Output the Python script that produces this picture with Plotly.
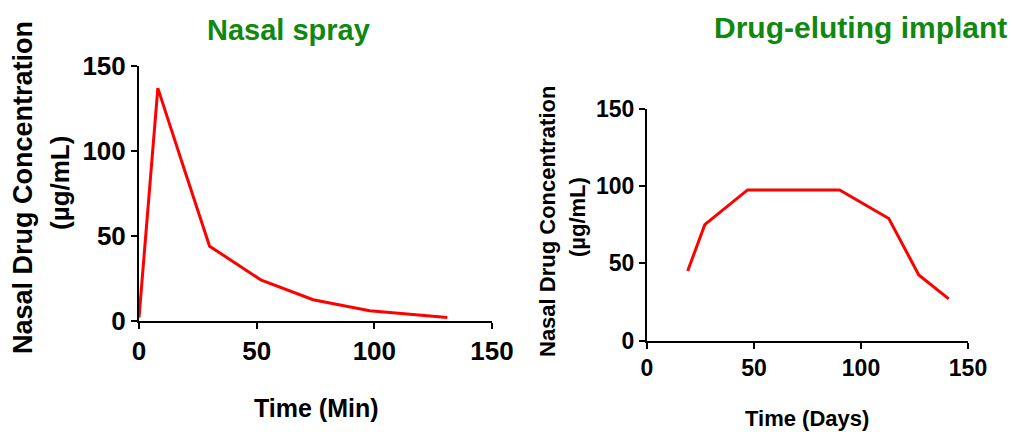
import plotly.graph_objects as go

W, H = 1012, 432

# Data: Nasal spray (time in minutes)
spray_time = [0, 8, 20, 30, 52, 74, 98, 131]
spray_conc = [2, 137, 86, 44, 24, 12.5, 6, 2]

# Data: Drug-eluting implant (time in days)
implant_time = [19, 27, 47, 90, 113, 127, 141]
implant_conc = [45, 75, 97.5, 97.5, 79, 42.5, 27]

tick_vals = [0, 50, 100, 150]
tick_text = ["0", "50", "100", "150"]

RED = "#ff0000"
GREEN = "#118811"
FONT = "Liberation Sans"


def px(x):
    return x / W


def py(y):
    return 1 - y / H


fig = go.Figure()
fig.add_trace(go.Scatter(x=spray_time, y=spray_conc, mode="lines",
                         line=dict(color=RED, width=3), xaxis="x", yaxis="y",
                         showlegend=False))
fig.add_trace(go.Scatter(x=implant_time, y=implant_conc, mode="lines",
                         line=dict(color=RED, width=3), xaxis="x2", yaxis="y2",
                         showlegend=False))

def axis(domain, anchor, size):
    return dict(domain=domain, anchor=anchor, range=[0, 150],
                tickvals=tick_vals, ticktext=tick_text,
                showline=True, linecolor="black", linewidth=2,
                ticks="outside", ticklen=6, tickwidth=2, tickcolor="black",
                showgrid=False, zeroline=False, automargin=False,
                tickfont=dict(family=FONT, size=size, color="black", weight="bold"))

fig.update_layout(
    width=W, height=H,
    margin=dict(l=0, r=0, t=0, b=0, pad=0),
    paper_bgcolor="white", plot_bgcolor="white",
    xaxis=axis([px(139), px(492)], "y", 26),
    yaxis=axis([py(321), py(66)], "x", 26),
    xaxis2=axis([px(647), px(968)], "y2", 23),
    yaxis2=axis([py(340.7), py(108.7)], "x2", 23),
)

def ann(text, x, y, size, color="black", angle=0):
    fig.add_annotation(text=text, x=px(x), y=py(y), xref="paper", yref="paper",
                       xanchor="center", yanchor="middle", showarrow=False,
                       textangle=angle,
                       font=dict(family=FONT, size=size, color=color, weight="bold"))

# Titles
ann("Nasal spray", 288, 30, 29, GREEN)
ann("Drug-eluting implant", 860, 27, 30, GREEN)

# Axis titles, left
ann("Time (Min)", 316, 408, 25)
ann("Nasal Drug Concentration", 23, 188, 27, angle=-90)
ann("(µg/mL)", 60, 183, 26, angle=-90)

# Axis titles, right
ann("Time (Days)", 807, 418, 22)
ann("Nasal Drug Concentration", 548, 222, 22, angle=-90)
ann("(µg/mL)", 578, 217, 22, angle=-90)

fig.write_html(
    "out.html",
    post_script="document.body.style.margin='0';document.body.style.overflow='hidden';",
)
